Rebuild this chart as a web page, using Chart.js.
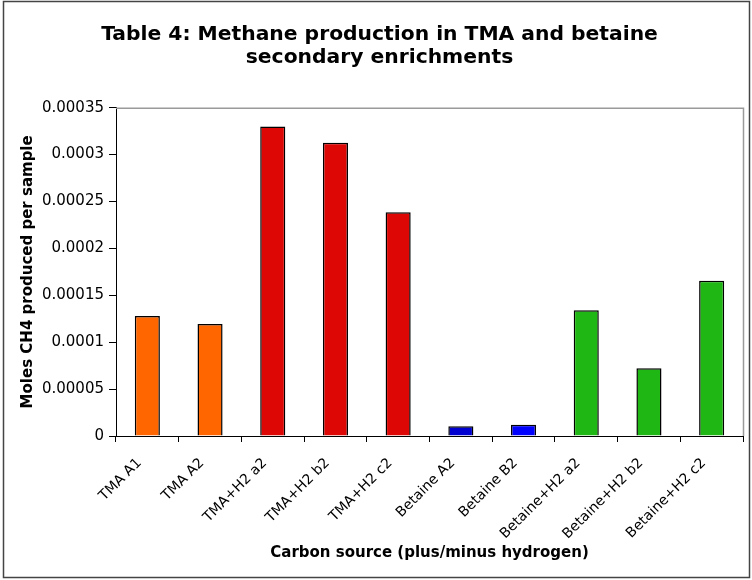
<!DOCTYPE html>
<html>
<head>
<meta charset="utf-8">
<script src="https://cdn.jsdelivr.net/npm/chart.js@4/dist/chart.umd.min.js"></script>
<style>
  html, body { margin: 0; padding: 0; background: #fff; }
  #wrap { width: 752px; height: 580px; position: relative; }
</style>
</head>
<body>
<div id="wrap"><canvas id="methane-chart" width="752" height="580"></canvas></div>
<script>
// samples on the x axis
const categories = [
    'TMA A1', 'TMA A2', 'TMA+H2 a2', 'TMA+H2 b2', 'TMA+H2 c2',
    'Betaine A2', 'Betaine B2', 'Betaine+H2 a2', 'Betaine+H2 b2', 'Betaine+H2 c2'
];

// moles of CH4 per sample
const methaneMoles = [
    0.000128, 0.0001195, 0.00033, 0.0003125, 0.0002385,
    0.0000105, 0.000012, 0.000134, 0.0000722, 0.0001655
];

// one fill per bar
const barColors = [
    '#FF6600', '#FF6600', '#DD0806', '#DD0806', '#DD0806',
    '#0000D0', '#0000FF', '#1FB714', '#1FB714', '#1FB714'
];

const yMax = 0.00035;
const yStep = 0.00005;

const FONT = 'DejaVu Sans, Verdana, sans-serif';

// grey frame on top/right of the plot area + outer chart border
const frames = {
    id: 'frames',
    afterDraw(chart) {
        const { ctx, chartArea } = chart;
        ctx.save();
        ctx.strokeStyle = '#9a9a9a';
        ctx.lineWidth = 1.5;
        ctx.beginPath();
        ctx.moveTo(chartArea.left, chartArea.top + 0.5);
        ctx.lineTo(chartArea.right + 0.5, chartArea.top + 0.5);
        ctx.lineTo(chartArea.right + 0.5, chartArea.bottom);
        ctx.stroke();

        ctx.strokeStyle = '#444';
        ctx.lineWidth = 1.5;
        ctx.strokeRect(3.5, 1.5, 746, 576);
        ctx.restore();
    }
};

const ctx = document.getElementById('methane-chart').getContext('2d');
const chart = new Chart(ctx, {
    type: 'bar',
    data: {
        labels: categories,
        datasets: [{
            data: methaneMoles,
            backgroundColor: barColors,
            borderColor: '#000',
            borderWidth: 1.5,
            barPercentage: 0.4,
            categoryPercentage: 1.0
        }]
    },
    options: {
        responsive: false,
        animation: false,
        layout: { padding: { top: 0, left: 16, right: 9, bottom: 0 } },
        plugins: {
            legend: { display: false },
            tooltip: { enabled: false },
            title: {
                display: true,
                text: ['Table 4: Methane production in TMA and betaine', 'secondary enrichments'],
                color: '#000',
                font: { family: FONT, size: 20.3, weight: 'bold', lineHeight: 1.15 },
                padding: { top: 23, bottom: 38 }
            }
        },
        scales: {
            x: {
                grid: {
                    drawOnChartArea: false,
                    drawTicks: true,
                    tickLength: 6,
                    color: '#000',
                    offset: true
                },
                border: { color: '#000', width: 1 },
                ticks: {
                    color: '#000',
                    font: { family: FONT, size: 14 },
                    maxRotation: 45,
                    minRotation: 45,
                    padding: 13,
                    labelOffset: -8
                },
                title: {
                    display: true,
                    text: 'Carbon source (plus/minus hydrogen)',
                    color: '#000',
                    font: { family: FONT, size: 15, weight: 'bold', lineHeight: 1.2 },
                    padding: { top: 0, bottom: 18 }
                },
                afterFit(scale) { scale.height = 144; }
            },
            y: {
                min: 0,
                max: yMax,
                grid: {
                    drawOnChartArea: false,
                    drawTicks: true,
                    tickLength: 7,
                    color: '#000'
                },
                border: { color: '#000', width: 1 },
                ticks: {
                    stepSize: yStep,
                    color: '#000',
                    font: { family: FONT, size: 15 },
                    padding: 5,
                    callback: (v) => Number(v.toFixed(5)).toString()
                },
                title: {
                    display: true,
                    text: 'Moles CH4 produced per sample',
                    color: '#000',
                    font: { family: FONT, size: 15, weight: 'bold', lineHeight: 1.2 },
                    padding: { top: 3, bottom: 0 }
                },
                afterFit(scale) { scale.width = 100; }
            }
        }
    },
    plugins: [frames]
});
</script>
</body>
</html>
